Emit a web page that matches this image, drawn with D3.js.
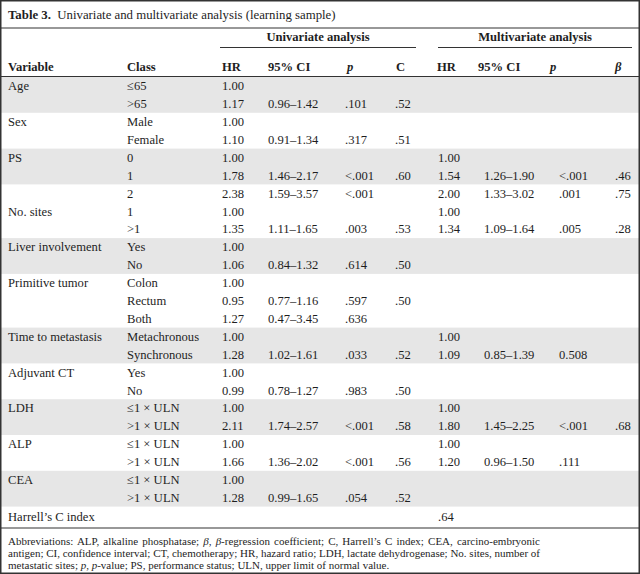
<!DOCTYPE html>
<html>
<head>
<meta charset="utf-8">
<script src="https://cdnjs.cloudflare.com/ajax/libs/d3/7.8.5/d3.min.js"></script>
<style>
html,body{margin:0;padding:0;background:#fff;}
svg text{font-family:"Liberation Serif","Times New Roman",serif;fill:#1e1e1e;}
</style>
</head>
<body>
<svg id="chart" width="640" height="574"></svg>
<script>
// ---------- data ----------
const titleBold = "Table 3.";
const titleText = "Univariate and multivariate analysis (learning sample)";
const groupHeaders = ["Univariate analysis", "Multivariate analysis"];
const columnHeaders = ["Variable", "Class", "HR", "95% CI", "p", "C", "HR", "95% CI", "p", "β"];

const variables = ["Age", "", "Sex", "", "PS", "", "", "No. sites", "", "Liver involvement", "",
  "Primitive tumor", "", "", "Time to metastasis", "", "Adjuvant CT", "", "LDH", "", "ALP", "", "CEA", ""];
const classes = ["≤65", ">65", "Male", "Female", "0", "1", "2", "1", ">1", "Yes", "No",
  "Colon", "Rectum", "Both", "Metachronous", "Synchronous", "Yes", "No",
  "≤1 × ULN", ">1 × ULN", "≤1 × ULN", ">1 × ULN", "≤1 × ULN", ">1 × ULN"];
const uniHR = ["1.00", "1.17", "1.00", "1.10", "1.00", "1.78", "2.38", "1.00", "1.35", "1.00", "1.06",
  "1.00", "0.95", "1.27", "1.00", "1.28", "1.00", "0.99", "1.00", "2.11", "1.00", "1.66", "1.00", "1.28"];
const uniCI = ["", "0.96–1.42", "", "0.91–1.34", "", "1.46–2.17", "1.59–3.57", "", "1.11–1.65", "", "0.84–1.32",
  "", "0.77–1.16", "0.47–3.45", "", "1.02–1.61", "", "0.78–1.27", "", "1.74–2.57", "", "1.36–2.02", "", "0.99–1.65"];
const uniP = ["", ".101", "", ".317", "", "<.001", "<.001", "", ".003", "", ".614",
  "", ".597", ".636", "", ".033", "", ".983", "", "<.001", "", "<.001", "", ".054"];
const uniC = ["", ".52", "", ".51", "", ".60", "", "", ".53", "", ".50",
  "", ".50", "", "", ".52", "", ".50", "", ".58", "", ".56", "", ".52"];
const multiHR = ["", "", "", "", "1.00", "1.54", "2.00", "1.00", "1.34", "", "",
  "", "", "", "1.00", "1.09", "", "", "1.00", "1.80", "1.00", "1.20", "", ""];
const multiCI = ["", "", "", "", "", "1.26–1.90", "1.33–3.02", "", "1.09–1.64", "", "",
  "", "", "", "", "0.85–1.39", "", "", "", "1.45–2.25", "", "0.96–1.50", "", ""];
const multiP = ["", "", "", "", "", "<.001", ".001", "", ".005", "", "",
  "", "", "", "", "0.508", "", "", "", "<.001", "", ".111", "", ""];
const multiBeta = ["", "", "", "", "", ".46", ".75", "", ".28", "", "",
  "", "", "", "", "", "", "", "", ".68", "", "", "", ""];
// rows per shaded/unshaded band, alternating, starting shaded
const bandSizes = [2, 2, 2, 3, 2, 3, 2, 2, 2, 2, 2];
const harrellLabel = "Harrell’s C index";
const harrellValue = ".64";
const footnotes = [
  [["Abbreviations: ALP, alkaline phosphatase; ", 0], ["β", 1], [", ", 0], ["β", 1], ["-regression coefficient; C, Harrell’s C index; CEA, carcino-embryonic", 0]],
  [["antigen; CI, confidence interval; CT, chemotherapy; HR, hazard ratio; LDH, lactate dehydrogenase; No. sites, number of", 0]],
  [["metastatic sites; ", 0], ["p", 1], [", ", 0], ["p", 1], ["-value; PS, performance status; ULN, upper limit of normal value.", 0]]
];

// ---------- layout ----------
const W = 640, H = 574;
const FS = 12.6;
const FN = 11;
const svg = d3.select("#chart");
const rule = "#333";

const columns = ["variable", "class", "uhr", "uci", "up", "uc", "mhr", "mci", "mp", "mb"];
const colX = d3.scaleOrdinal().domain(columns).range([8, 127, 222, 268, 345, 395, 438, 484, 559, 615]);
const headX = d3.scaleOrdinal().domain(columns).range([8, 127, 222, 268, 347, 396, 437, 478, 550, 615]);

const nRows = classes.length;
const rowTop0 = 77, pitch = 17.9;
const y = d3.scaleLinear().domain([0, nRows]).range([rowTop0, rowTop0 + nRows * pitch]);

// background
svg.append("rect").attr("width", W).attr("height", H).attr("fill", "#fff");

// shaded bands
let start = 0;
bandSizes.forEach((n, i) => {
  if (i % 2 === 0) {
    svg.append("rect")
      .attr("x", 1).attr("width", W - 2)
      .attr("y", y(start)).attr("height", y(start + n) - y(start))
      .attr("fill", "#e6e6e6");
  }
  start += n;
});

// title
const t = svg.append("text").attr("x", 8).attr("y", 19).attr("font-size", FS + 0.2).attr("xml:space", "preserve");
t.append("tspan").attr("font-weight", "bold").text(titleBold);
t.append("tspan").text("  " + titleText);
svg.append("line").attr("x1", 1).attr("x2", W - 1).attr("y1", 28).attr("y2", 28).attr("stroke", rule).attr("stroke-width", 1.2);

// group headers
const groupSpan = [[220, 416], [438, 632]];
groupHeaders.forEach((g, i) => {
  const [a, b] = groupSpan[i];
  svg.append("text").attr("x", (a + b) / 2).attr("y", 41)
    .attr("text-anchor", "middle").attr("font-weight", "bold").attr("font-size", FS).text(g);
  svg.append("line").attr("x1", a).attr("x2", b).attr("y1", 47.5).attr("y2", 47.5).attr("stroke", rule).attr("stroke-width", 1.2);
});

// column headers
columnHeaders.forEach((h, i) => {
  const key = columns[i];
  svg.append("text").attr("x", headX(key)).attr("y", 71)
    .attr("font-weight", "bold").attr("font-size", FS)
    .attr("font-style", (h === "p" || h === "β") ? "italic" : null)
    .text(h);
});
svg.append("line").attr("x1", 1).attr("x2", W - 1).attr("y1", 76.5).attr("y2", 76.5).attr("stroke", rule).attr("stroke-width", 1.2);

// body
const colData = {variable: variables, class: classes, uhr: uniHR, uci: uniCI, up: uniP, uc: uniC,
  mhr: multiHR, mci: multiCI, mp: multiP, mb: multiBeta};
const body = svg.append("g");
columns.forEach(key => {
  body.selectAll(null).data(colData[key]).enter().append("text")
    .attr("x", colX(key))
    .attr("y", (d, i) => y(i) + 13.2)
    .attr("font-size", FS)
    .text(d => d);
});

// Harrell row
svg.append("text").attr("x", colX("variable")).attr("y", y(nRows) + 14).attr("font-size", FS).text(harrellLabel);
svg.append("text").attr("x", colX("mhr")).attr("y", y(nRows) + 14).attr("font-size", FS).text(harrellValue);
svg.append("line").attr("x1", 1).attr("x2", W - 1).attr("y1", 528).attr("y2", 528).attr("stroke", rule).attr("stroke-width", 1.2);

// footnotes (first two lines justified to the same right edge)
const justifyRight = 540;
footnotes.forEach((line, i) => {
  const tx = svg.append("text").attr("x", 8).attr("y", 544.5 + i * 12.2).attr("font-size", FN);
  line.forEach(([s, it]) => tx.append("tspan").attr("font-style", it ? "italic" : null).text(s));
  if (i < footnotes.length - 1) {
    const natural = tx.node().getComputedTextLength();
    const spaces = line.map(d => d[0]).join("").split(" ").length - 1;
    const extra = (justifyRight - 8 - natural) / spaces;
    if (extra > 0) tx.attr("word-spacing", extra);
  }
});

// outer border
svg.append("rect").attr("x", 0.75).attr("y", 0.75).attr("width", W - 1.5).attr("height", H - 1.5)
  .attr("fill", "none").attr("stroke", rule).attr("stroke-width", 1.5);
</script>
</body>
</html>
